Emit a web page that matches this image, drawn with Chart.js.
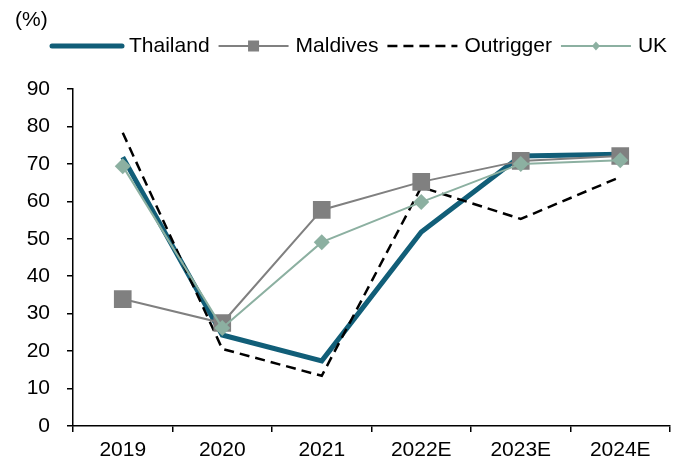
<!DOCTYPE html>
<html>
<head>
<meta charset="utf-8">
<script src="https://cdn.jsdelivr.net/npm/chart.js@4/dist/chart.umd.min.js"></script>
<style>
  html, body { margin: 0; padding: 0; background: #fff; }
  #wrap { width: 685px; height: 470px; position: relative; }
</style>
</head>
<body>
<div id="wrap"><canvas id="c" width="685" height="470"></canvas></div>
<script>
const categories = ['2019', '2020', '2021', '2022E', '2023E', '2024E'];
const thailand  = [71.8, 24.3, 17.4, 51.8, 72.1, 72.6];
const maldives  = [33.9, 27.5, 57.7, 65.2, 70.8, 72.1];
const outrigger = [78.3, 20.6, 13.4, 63.8, 55.3, 66.5];
const uk        = [69.4, 26.2, 49.1, 59.8, 70.0, 71.0];
const yTicks = [0, 10, 20, 30, 40, 50, 60, 70, 80, 90];
const unitLabel = '(%)';

const FONT = '"Liberation Sans", Arial, sans-serif';
const C_TH = '#115E78', C_MA = '#808080', C_OU = '#000000', C_UK = '#8CB0A1';

const legendPlugin = {
  id: 'customLegend',
  afterDraw(chart) {
    const ctx = chart.ctx;
    ctx.save();
    ctx.font = '21px ' + FONT;
    ctx.fillStyle = '#000';
    ctx.textBaseline = 'middle';
    ctx.textAlign = 'left';
    ctx.fillText(unitLabel, 15, 20);
    const y = 46;
    const items = chart.data.datasets;
    let x = 52;
    items.forEach(ds => {
      const L = 70;
      ctx.save();
      ctx.strokeStyle = ds.borderColor;
      ctx.lineWidth = ds.borderWidth;
      ctx.lineCap = ds.label === 'Thailand' ? 'round' : 'butt';
      ctx.setLineDash(ds.borderDash || []);
      ctx.beginPath();
      ctx.moveTo(x, y);
      ctx.lineTo(x + L, y);
      ctx.stroke();
      ctx.setLineDash([]);
      ctx.fillStyle = ds.pointBackgroundColor;
      if (ds.pointStyle === 'rect' && ds.pointRadius > 0) {
        ctx.fillRect(x + L / 2 - 5.5, y - 5.5, 11, 11);
      } else if (ds.pointStyle === 'rectRot' && ds.pointRadius > 0) {
        ctx.beginPath();
        ctx.moveTo(x + L / 2, y - 4.5);
        ctx.lineTo(x + L / 2 + 4, y);
        ctx.lineTo(x + L / 2, y + 4.5);
        ctx.lineTo(x + L / 2 - 4, y);
        ctx.closePath();
        ctx.fill();
      }
      ctx.restore();
      ctx.fillStyle = '#000';
      ctx.fillText(ds.label, x + L + 7, y);
      x += L + 7 + ctx.measureText(ds.label).width + 9;
    });
    ctx.restore();
  }
};

new Chart(document.getElementById('c'), {
  type: 'line',
  data: {
    labels: categories,
    datasets: [
      { label: 'Thailand', data: thailand, borderColor: C_TH, backgroundColor: C_TH,
        borderWidth: 5, pointRadius: 0, pointBackgroundColor: C_TH, order: 3, tension: 0 },
      { label: 'Maldives', data: maldives, borderColor: C_MA, backgroundColor: C_MA,
        borderWidth: 2, pointStyle: 'rect', pointRadius: 12.5, pointBorderWidth: 0,
        pointBackgroundColor: C_MA, pointBorderColor: C_MA, order: 1, tension: 0 },
      { label: 'Outrigger', data: outrigger, borderColor: C_OU, backgroundColor: C_OU,
        borderWidth: 2.5, borderDash: [10, 6], pointRadius: 0, pointBackgroundColor: C_OU, order: 2, tension: 0 },
      { label: 'UK', data: uk, borderColor: C_UK, backgroundColor: C_UK,
        borderWidth: 2, pointStyle: 'rectRot', pointRadius: 8, pointBorderWidth: 0,
        pointBackgroundColor: C_UK, pointBorderColor: C_UK, order: 0, tension: 0 }
    ]
  },
  options: {
    responsive: false,
    animation: false,
    devicePixelRatio: 1,
    layout: { padding: { left: 0, top: 89, right: 15, bottom: 0 } },
    plugins: { legend: { display: false }, tooltip: { enabled: false } },
    scales: {
      x: {
        offset: true,
        grid: { display: true, drawOnChartArea: false, offset: true, tickLength: 6, color: '#000', lineWidth: 1.5 },
        border: { display: true, color: '#000', width: 1.5 },
        ticks: { color: '#000', font: { family: FONT, size: 21 }, padding: 6, maxRotation: 0 },
        afterFit(s) { s.height = 44; }
      },
      y: {
        min: 0, max: 90,
        afterBuildTicks(s) { s.ticks = yTicks.map(v => ({ value: v })); },
        grid: { display: true, drawOnChartArea: false, tickLength: 6, color: '#000', lineWidth: 1.5 },
        border: { display: true, color: '#000', width: 1.5 },
        ticks: { color: '#000', font: { family: FONT, size: 21 }, padding: 17 },
        afterFit(s) { s.width = 73; }
      }
    }
  },
  plugins: [legendPlugin]
});
</script>
</body>
</html>
